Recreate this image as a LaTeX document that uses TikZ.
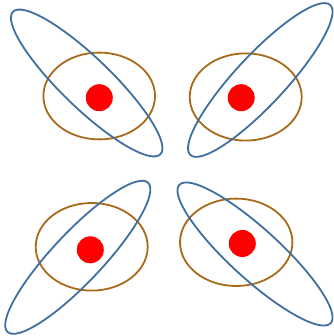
\documentclass[tikz,border=0pt]{standalone}
\definecolor{orbitblue}{HTML}{3F6F9E}
\definecolor{ringbrown}{HTML}{A86A1A}
\begin{document}
\begin{tikzpicture}[x=1pt,y=1pt,
    tilted/.style={orbitblue,line width=1.8pt},
    ring/.style={ringbrown,line width=1.8pt},
    dot/.style={fill=red}]
    \useasboundingbox (0,0) rectangle (333,336);
    \fill[dot] (99.3,238.3) circle[radius=13.5];
    \draw[ring] (99.2,240) ellipse[x radius=55.8,y radius=43.4];
    \draw[tilted] (86.7,253) ellipse[x radius=102.5,y radius=25,rotate=-44];
    \fill[dot] (241.2,238.3) circle[radius=13.5];
    \draw[ring] (245.7,239) ellipse[x radius=56,y radius=43.6];
    \draw[tilted] (260.3,256) ellipse[x radius=102.5,y radius=25,rotate=47];
    \fill[dot] (90.3,86.2) circle[radius=13.5];
    \draw[ring] (91.7,89.2) ellipse[x radius=56,y radius=43.8];
    \draw[tilted] (77.8,78.7) ellipse[x radius=102.5,y radius=25,rotate=46.7];
    \fill[dot] (242.3,92.5) circle[radius=13.5];
    \draw[ring] (236.2,93.7) ellipse[x radius=56.2,y radius=43.7];
    \draw[tilted] (255,82) ellipse[x radius=102.5,y radius=25,rotate=-42.4];
\end{tikzpicture}
\end{document}
